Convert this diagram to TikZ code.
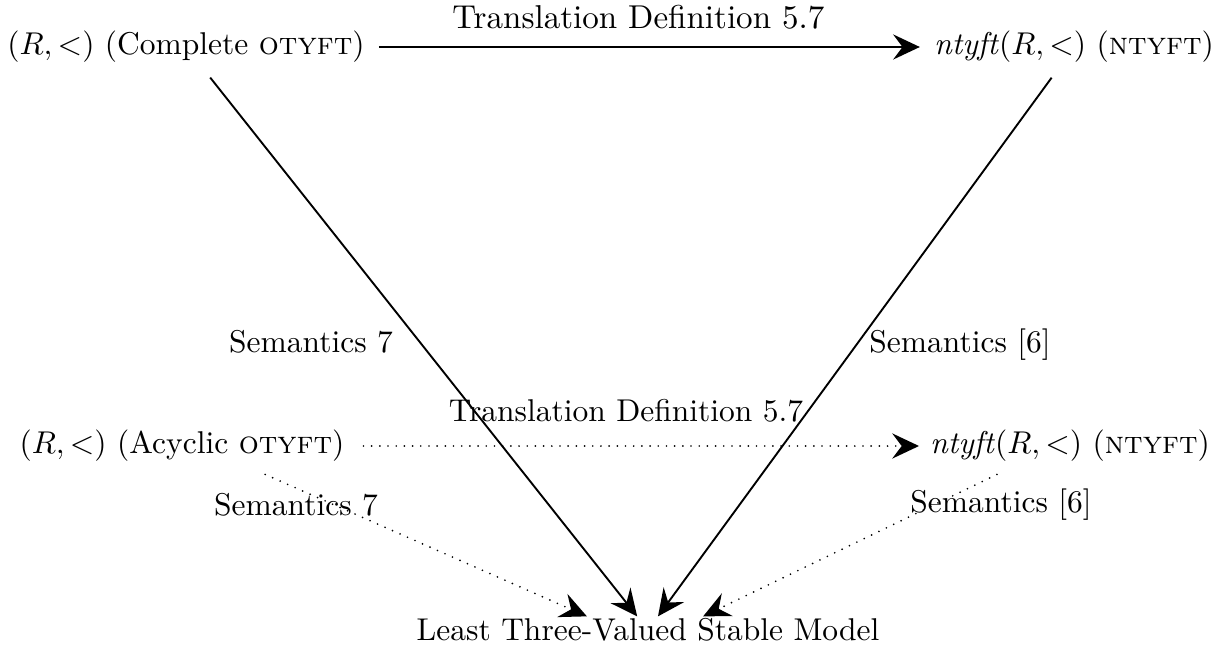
\documentclass[tikz,border=0pt]{standalone}
\usepackage{tikz}
\usetikzlibrary{arrows.meta}

\begin{document}
\begin{tikzpicture}[x=0.3175pt,y=-0.3175pt,
  tip/.style={-{Stealth[length=8.5pt,width=8pt,inset=3pt]}},
  solidarrow/.style={tip,line width=0.6pt},
  dotarrow/.style={tip,line width=0.6pt,line cap=round,dash pattern=on 0pt off 2.6pt}]
\useasboundingbox (0,0) rectangle (1219,657);

\node (0) at (186,47) {$(R,<)$ (Complete \textsc{otyft})};
\node (1) at (1074,47) {\textit{ntyft}$(R,<)$ (\textsc{ntyft})};
\node (2) at (182,446) {$(R,<)$ (Acyclic \textsc{otyft})};
\node (3) at (1070,446) {\textit{ntyft}$(R,<)$ (\textsc{ntyft})};
\node[inner ysep=0.5pt] (4) at (648,630) {Least Three-Valued Stable Model};

\node (5) at (311,342) {Semantics 7};
\node (6) at (960,345) {Semantics [6]};
\node (7) at (296,505) {Semantics 7};
\node (8) at (1001,505) {Semantics [6]};

% top row
\draw[solidarrow,shorten <=1pt,shorten >=1pt] (0) -- node[pos=0.48,above=2pt,font=\fontsize{10.5}{12}\selectfont] (9) {Translation Definition 5.7} (1);
\draw[solidarrow,shorten <=1.5pt] (0) -- (4);
\draw[solidarrow,shorten <=1.5pt] (1) -- (4);

% middle row
\draw[dotarrow,shorten <=2.5pt] (2) -- node[pos=0.48,above=4pt] (10) {Translation Definition 5.7} (3);
\draw[dotarrow] ([xshift=26.4pt,yshift=-0.5pt]2.south) -- ([xshift=-19.4pt]4.north);
\draw[dotarrow] ([xshift=-23.2pt,yshift=-0.5pt]3.south) -- ([xshift=17.5pt]4.north);

\end{tikzpicture}
\end{document}
